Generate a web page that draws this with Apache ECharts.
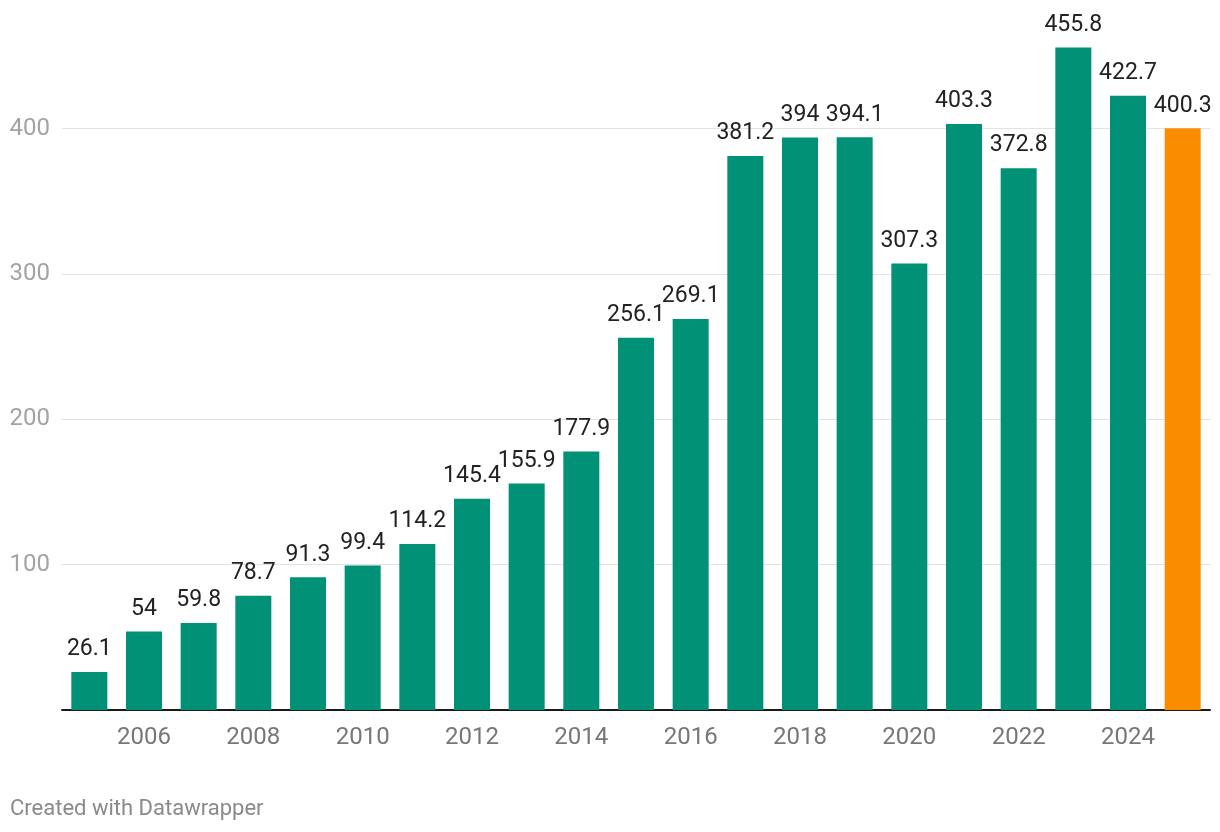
<!DOCTYPE html>
<html>
<head>
<meta charset="utf-8">
<script src="https://cdn.jsdelivr.net/npm/echarts@6/dist/echarts.min.js"></script>
<style>
html,body{margin:0;padding:0;background:#fff;}
#chart{width:1220px;height:832px;position:relative;}
#credit{position:absolute;left:10px;top:795px;font-family:Roboto,sans-serif;font-size:22px;color:#8a8a8a;}
</style>
</head>
<body>
<div id="chart"></div>
<div id="credit">Created with Datawrapper</div>
<script>
const years = ['2005','2006','2007','2008','2009','2010','2011','2012','2013','2014','2015','2016','2017','2018','2019','2020','2021','2022','2023','2024','2025'];
const values = [26.1,54,59.8,78.7,91.3,99.4,114.2,145.4,155.9,177.9,256.1,269.1,381.2,394,394.1,307.3,403.3,372.8,455.8,422.7,400.3];
const highlightYear = '2025';
const yTicks = [100,200,300,400];

const green = '#009176';
const orange = '#fa8c00';

const chart = echarts.init(document.getElementById('chart'), null, {renderer:'canvas'});
chart.setOption({
  animation:false,
  grid:{left:62,right:10,top:41.5,bottom:122,containLabel:false},
  xAxis:{
    type:'category',
    data:years,
    axisLine:{show:true,lineStyle:{color:'#1a1a1a',width:2}},
    axisTick:{show:false},
    axisLabel:{
      interval:(i)=> i%2===1,
      color:'#777',fontFamily:'Roboto',fontSize:24,margin:16
    }
  },
  yAxis:{
    type:'value',min:0,max:460,interval:100,
    axisLine:{show:false},axisTick:{show:false},
    splitLine:{showMaxLine:false,showMinLine:false,lineStyle:{color:'#e3e3e3',width:1}},
    axisLabel:{
      showMaxLabel:false,
      color:'#a3a3a3',fontFamily:'Roboto',fontSize:24,margin:12,
      formatter:(v)=> yTicks.includes(v) ? String(v) : ''
    }
  },
  series:[{
    type:'bar',
    barWidth:36,
    data:values.map((v,i)=>({value:v,itemStyle:{color: years[i]===highlightYear?orange:green}})),
    label:{
      show:true,position:'top',distance:11,
      color:'#222',fontFamily:'Roboto',fontSize:23,
      formatter:(p)=>String(p.value)
    }
  }]
});
</script>
</body>
</html>
